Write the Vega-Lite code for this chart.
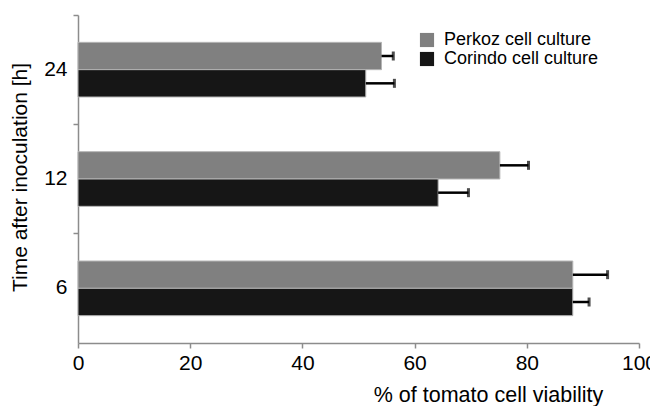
{
  "$schema": "https://vega.github.io/schema/vega-lite/v6.json",
  "width": 561,
  "height": 328,
  "autosize": {"type": "none"},
  "padding": {"left": 78, "top": 15, "right": 11, "bottom": 63},
  "background": "white",
  "config": {
    "view": {"stroke": null},
    "font": "Liberation Sans",
    "axis": {
      "domainColor": "#8c8c8c",
      "domainWidth": 1.5,
      "tickColor": "#8c8c8c",
      "tickWidth": 1.5,
      "tickSize": 5,
      "labelColor": "black",
      "titleColor": "black",
      "grid": false,
      "labelFont": "Liberation Sans",
      "titleFont": "Liberation Sans",
      "titleFontWeight": "normal"
    }
  },
  "data": {
    "values": [
      {"time": "24", "culture": "Perkoz cell culture", "value": 54.1, "upper": 56.2},
      {"time": "24", "culture": "Corindo cell culture", "value": 51.3, "upper": 56.4},
      {"time": "12", "culture": "Perkoz cell culture", "value": 75.2, "upper": 80.3},
      {"time": "12", "culture": "Corindo cell culture", "value": 64.2, "upper": 69.6},
      {"time": "6", "culture": "Perkoz cell culture", "value": 88.2, "upper": 94.4},
      {"time": "6", "culture": "Corindo cell culture", "value": 88.2, "upper": 91.1}
    ]
  },
  "encoding": {
    "y": {
      "field": "time",
      "type": "nominal",
      "sort": ["24", "12", "6"],
      "scale": {"paddingInner": 0.5, "paddingOuter": 0.25},
      "axis": {
        "title": "Time after inoculation [h]",
        "titleFontSize": 21,
        "titleAngle": -90,
        "titleX": -58,
        "titleY": 162,
        "titleAlign": "center",
        "titleBaseline": "middle",
        "labelFontSize": 21,
        "labelAngle": 0,
        "labelPadding": 6,
        "bandPosition": -0.5
      }
    },
    "yOffset": {
      "field": "culture",
      "type": "nominal",
      "sort": ["Perkoz cell culture", "Corindo cell culture"],
      "scale": {"paddingInner": 0, "paddingOuter": 0}
    }
  },
  "layer": [
    {
      "mark": {"type": "bar", "stroke": "#b5b5b5", "strokeWidth": 1},
      "encoding": {
        "x": {
          "field": "value",
          "type": "quantitative",
          "scale": {"domain": [0, 100], "nice": false},
          "axis": {
            "values": [0, 20, 40, 60, 80, 100],
            "title": "% of tomato cell viability",
            "titleFontSize": 21.5,
            "titleX": 410,
            "titleY": 41,
            "titleAlign": "center",
            "titleBaseline": "top",
            "labelFontSize": 21,
            "labelPadding": 4,
            "labelFlush": false
          }
        },
        "color": {
          "field": "culture",
          "type": "nominal",
          "scale": {
            "domain": ["Perkoz cell culture", "Corindo cell culture"],
            "range": ["#808080", "#161616"]
          },
          "legend": {
            "title": null,
            "orient": "none",
            "legendX": 340,
            "legendY": 16,
            "padding": 0,
            "symbolType": "square",
            "symbolSize": 200,
            "symbolStrokeWidth": 0,
            "labelFontSize": 18,
            "labelOffset": 8,
            "rowPadding": 1,
            "labelColor": "black"
          }
        }
      }
    },
    {
      "mark": {"type": "rule", "color": "black", "strokeWidth": 2.5},
      "encoding": {
        "x": {"field": "value", "type": "quantitative"},
        "x2": {"field": "upper"}
      }
    },
    {
      "mark": {"type": "tick", "color": "black", "thickness": 3, "size": 9, "orient": "vertical"},
      "encoding": {
        "x": {"field": "upper", "type": "quantitative"}
      }
    }
  ]
}
